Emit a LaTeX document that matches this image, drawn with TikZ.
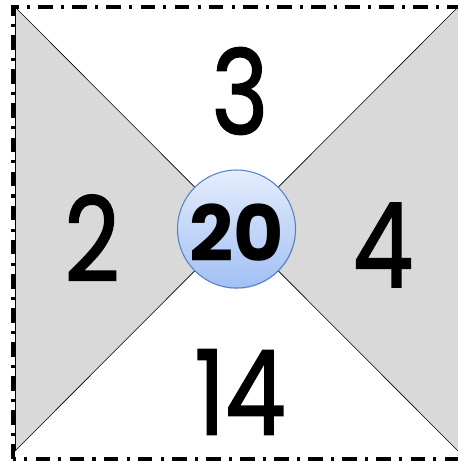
\documentclass[tikz,border=0pt]{standalone}
\usepackage{fontspec}
\usetikzlibrary{shadows}
\newfontfamily\handfont[FakeBold=1.6]{Poppins}
\newfontfamily\sumfont{Poppins}
\definecolor{sidegray}{HTML}{D9D9D9}
\definecolor{discedge}{HTML}{5683C4}
\definecolor{disctop}{HTML}{E4EDFD}
\definecolor{discbottom}{HTML}{A2C0F4}
\tikzset{
  numlabel/.style={font=\handfont\fontsize{100}{100}\selectfont, inner sep=0pt, xscale=0.82},
  sumlabel/.style={font=\sumfont\bfseries\fontsize{66}{66}\selectfont, inner sep=0pt},
  centerdisc/.style={circle, minimum size=3.54cm, draw=discedge, line width=0.9pt,
    top color=disctop, bottom color=discbottom, drop shadow={opacity=0.25, shadow xshift=0.6pt, shadow yshift=-0.9pt}},
  frameline/.style={line width=3.2pt, dash pattern=on 12.5pt off 7pt on 2.6pt off 7pt}
}
\begin{document}
\begin{tikzpicture}[x=0.03cm,y=-0.03cm]
\clip (0,0) rectangle (458,462);
% corners of the square and its centre
\coordinate (tl) at (15,7);
\coordinate (tr) at (458,7);
\coordinate (br) at (458,451);
\coordinate (bl) at (15,451);
\coordinate (mid) at (236.5,229);
% grey side triangles
\fill[sidegray] (tl) -- (mid) -- (bl) -- cycle;
\fill[sidegray] (tr) -- (mid) -- (br) -- cycle;
\draw[line width=0.5pt] (tl) -- (br);
\draw[line width=0.5pt] (tr) -- (bl);
\draw[line width=0.5pt] (tl) -- (bl);
% dash-dot frame
\draw[frameline] (13,459) -- (13,7) -- (466,7) -- (466,459) -- cycle;
% centre disc
\node[centerdisc] (disc) at (mid) {};
\node[sumlabel] (sum) at (237,233) {20};
% the four numbers
\node[numlabel] (north) at (240,91) {3};
\node[numlabel] (west) at (92,238) {2};
\node[numlabel] (east) at (383,245) {4};
\node[numlabel] (south) at (240,392) {14};
\end{tikzpicture}
\end{document}
